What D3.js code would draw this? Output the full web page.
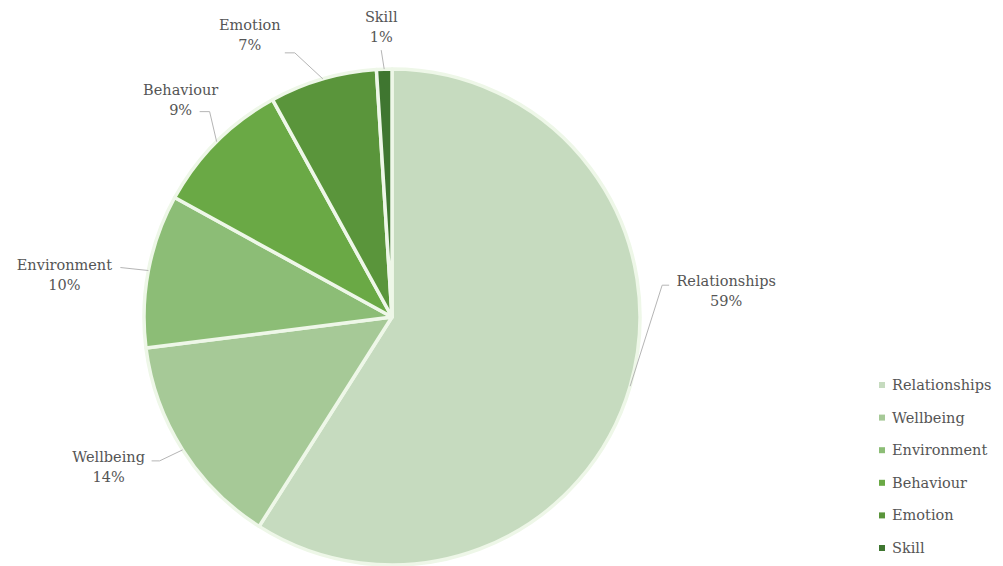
<!DOCTYPE html>
<html>
<head>
<meta charset="utf-8">
<script src="https://cdn.jsdelivr.net/npm/d3@7"></script>
<style>
  html, body { margin: 0; padding: 0; background: #ffffff; }
  svg { display: block; }
  text { font-family: "DejaVu Serif", "Liberation Serif", serif; fill: #555555; }
</style>
</head>
<body>
<svg id="chart" width="1003" height="566"></svg>
<script>
// Share of responses by theme (percent)
const categories = ["Relationships", "Wellbeing", "Environment", "Behaviour", "Emotion", "Skill"];
const values = [59, 14, 10, 9, 7, 1];
const colors = ["#c6dbbf", "#a6c997", "#8cbd76", "#6aa945", "#5a953b", "#3f7630"];

// Label placement relative to the slice's outer edge point:
// [text dx, text dy, elbow dx, elbow dy, line end dx]
const labelLayout = [
  [96, -100, 32, -101, 39],
  [-74, 12, -23, 11, -31],
  [-84, -1, -28, -3, -28],
  [-36, -47, -7, -30, -17],
  [-73, -49, -28, -26, -38],
  [-3, -47, -3, -19, -3]
];

const svg = d3.select("#chart");
const cx = 392, cy = 317, radius = 248;

const pie = d3.pie().sort(null).value(d => d.value);
const arc = d3.arc().innerRadius(0).outerRadius(radius);
const edgeArc = d3.arc().innerRadius(radius).outerRadius(radius);

const data = categories.map((c, i) => ({ name: c, value: values[i], color: colors[i], layout: labelLayout[i] }));
const arcs = pie(data);

const g = svg.append("g").attr("transform", `translate(${cx},${cy})`);

g.selectAll("path.slice")
  .data(arcs)
  .enter().append("path")
  .attr("class", "slice")
  .attr("d", arc)
  .attr("fill", d => d.data.color)
  .attr("stroke", "#eef7e8")
  .attr("stroke-width", 3.5)
  .attr("stroke-linejoin", "round");

// Leader lines and data labels
const labels = g.selectAll("g.label").data(arcs).enter().append("g").attr("class", "label");

labels.append("polyline")
  .attr("points", d => {
    const [ex, ey] = edgeArc.centroid(d);
    const L = d.data.layout;
    const elbow = [ex + L[2], ey + L[3]];
    const end = [ex + L[4], ey + L[3]];
    return [[ex, ey], elbow, end].map(p => p.join(",")).join(" ");
  })
  .attr("fill", "none")
  .attr("stroke", "#b5b5b5")
  .attr("stroke-width", 1);

labels.append("text")
  .attr("text-anchor", "middle")
  .attr("font-size", 14.5)
  .attr("x", d => edgeArc.centroid(d)[0] + d.data.layout[0])
  .attr("y", d => edgeArc.centroid(d)[1] + d.data.layout[1])
  .text(d => d.data.name);

labels.append("text")
  .attr("text-anchor", "middle")
  .attr("font-size", 14.5)
  .attr("x", d => edgeArc.centroid(d)[0] + d.data.layout[0])
  .attr("y", d => edgeArc.centroid(d)[1] + d.data.layout[1] + 20)
  .text(d => d3.format(".0f")(d.data.value) + "%");

// Legend
const legendY = d3.scalePoint().domain(categories).range([385, 548]);
const legend = svg.append("g").selectAll("g").data(data).enter().append("g")
  .attr("transform", d => `translate(879,${legendY(d.name)})`);

legend.append("rect")
  .attr("x", 0).attr("y", -3)
  .attr("width", 6).attr("height", 6)
  .attr("fill", d => d.color);

legend.append("text")
  .attr("x", 13).attr("y", 5)
  .attr("font-size", 14.5)
  .text(d => d.name);
</script>
</body>
</html>
